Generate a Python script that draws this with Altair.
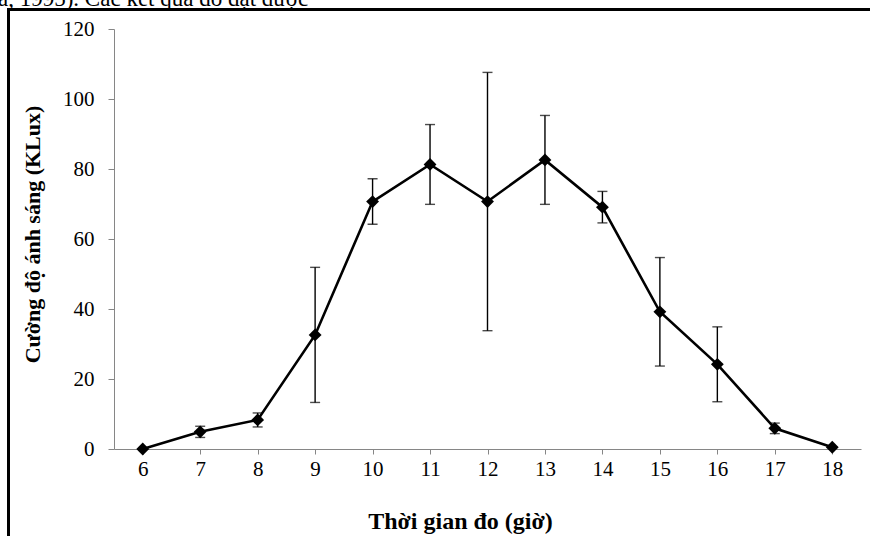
import altair as alt
import pandas as pd

# Light intensity measured through the day (mean ± SD)
hours = [6, 7, 8, 9, 10, 11, 12, 13, 14, 15, 16, 17, 18]
light_mean = [0.0, 4.9, 8.3, 32.6, 70.7, 81.3, 70.7, 82.6, 69.1, 39.2, 24.2, 5.9, 0.5]
light_sd = [0.0, 1.6, 2.0, 19.3, 6.5, 11.4, 36.9, 12.7, 4.5, 15.5, 10.7, 1.5, 0.0]

df = pd.DataFrame({"hour": hours, "mean": light_mean, "sd": light_sd})
df["lo"] = df["mean"] - df["sd"]
df["hi"] = df["mean"] + df["sd"]

SERIF = "Liberation Serif"
AXIS_GREY = "#868686"

x_enc = alt.X(
    "hour:Q",
    scale=alt.Scale(domain=[5.5, 18.5], nice=False, zero=False),
    axis=alt.Axis(
        values=hours,
        title="Thời gian đo (giờ)",
        titleFont=SERIF,
        titleFontSize=24,
        titleFontWeight="bold",
        titleColor="black",
        titleX=346,
        titleY=79,
        titleBaseline="alphabetic",
        titleAnchor="start",
        titleAlign="center",
        labelFont=SERIF,
        labelFontSize=21,
        labelColor="black",
        labelPadding=4,
        tickSize=5,
        grid=False,
        domainColor=AXIS_GREY,
        tickColor=AXIS_GREY,
    ),
)

y_axis = alt.Axis(
    values=[0, 20, 40, 60, 80, 100, 120],
    title="Cường độ ánh sáng (KLux)",
    titleFont=SERIF,
    titleFontSize=22,
    titleFontWeight="bold",
    titleColor="black",
    titleX=-75,
    titleY=205,
    titleAngle=270,
    titleBaseline="alphabetic",
    titleAlign="center",
    labelFont=SERIF,
    labelFontSize=21,
    labelColor="black",
    labelPadding=14,
    tickSize=6,
    grid=False,
    domainColor=AXIS_GREY,
    tickColor=AXIS_GREY,
)
y_scale = alt.Scale(domain=[0, 120], nice=False)

base = alt.Chart(df)

errbars = base.mark_errorbar(
    color="black",
    ticks={"size": 10, "thickness": 1.4, "color": "black"},
    rule={"strokeWidth": 1.4, "color": "black"},
).encode(
    x=x_enc,
    y=alt.Y("lo:Q", scale=y_scale, axis=y_axis),
    y2="hi:Q",
)

line = base.mark_line(color="black", strokeWidth=2.6).encode(
    x=x_enc,
    y=alt.Y("mean:Q", scale=y_scale, axis=y_axis),
)

points = base.mark_point(
    shape="diamond", filled=True, color="black", size=165, opacity=1
).encode(
    x=x_enc,
    y=alt.Y("mean:Q", scale=y_scale, axis=y_axis),
)

# Running text of the page above the figure
caption = alt.Chart(pd.DataFrame({"t": ["a, 1995). Các kết quả đo đạt được"]})).mark_text(
    font=SERIF, fontSize=23, align="left", baseline="alphabetic", color="black"
).encode(
    text="t:N",
    x=alt.value(-116),
    y=alt.value(-23),
)

# Figure frame
frame_top = alt.Chart(df).mark_rule(color="black", strokeWidth=2).encode(
    x=alt.value(-106), x2=alt.value(760), y=alt.value(-19.5)
)
frame_left = alt.Chart(df).mark_rule(color="black", strokeWidth=2).encode(
    x=alt.value(-105.5), y=alt.value(-20.5), y2=alt.value(520)
)

chart = (
    alt.layer(caption, frame_top, frame_left, errbars, line, points)
    .properties(
        width=747,
        height=420,
        autosize=alt.AutoSizeParams(type="none"),
        padding={"left": 114, "top": 29, "right": 9, "bottom": 87},
        background="white",
    )
    .configure_view(stroke=None)
)

chart.save("out.html", embed_options={"renderer": "svg", "actions": False})
